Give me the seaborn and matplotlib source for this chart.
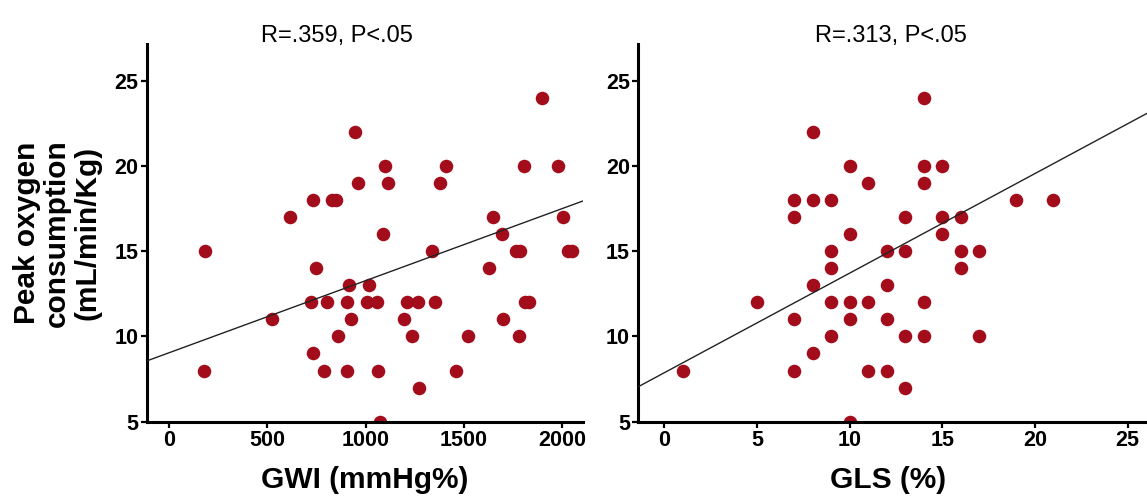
import matplotlib
matplotlib.use("Agg")
import matplotlib.pyplot as plt
import pandas as pd
import seaborn as sns

# Global work index (mmHg%) vs peak VO2
gwi = [182, 177, 522, 615, 734, 827, 851, 746, 722, 802, 734, 790, 861, 904,
       916, 926, 907, 946, 963, 1019, 1006, 1060, 1062, 1074, 1099, 1116, 1091,
       1196, 1210, 1269, 1239, 1274, 1337, 1354, 1380, 1410, 1461, 1524, 1628,
       1648, 1694, 1699, 1765, 1787, 1784, 1808, 1810, 1833, 1898, 1980, 2008,
       2031, 2054]
vo2_gwi = [15, 8, 11, 17, 18, 18, 18, 14, 12, 12, 9, 8, 10, 12,
           13, 11, 8, 22, 19, 13, 12, 12, 8, 5, 20, 19, 16,
           11, 12, 12, 10, 7, 15, 12, 19, 20, 8, 10, 14,
           17, 16, 11, 15, 15, 10, 20, 12, 12, 24, 20, 17,
           15, 15]

# Global longitudinal strain (%) vs peak VO2
gls = [1, 5, 7, 7, 7, 7, 8, 8, 8, 8, 9, 9, 9, 9, 9, 10, 10, 10, 10, 10,
       11, 11, 11, 12, 12, 12, 12, 13, 13, 13, 13, 14, 14, 14, 14, 14,
       15, 15, 15, 16, 16, 16, 17, 17, 19, 21]
vo2_gls = [8, 12, 18, 17, 11, 8, 22, 18, 13, 9, 18, 15, 14, 12, 10, 20, 16, 12, 11, 5,
           19, 12, 8, 15, 13, 11, 8, 17, 15, 10, 7, 24, 20, 19, 12, 10,
           20, 17, 16, 17, 15, 14, 15, 10, 18, 18]

# Linear fits (intercept, slope)
fit_gwi = (9.05, 0.00422)
fit_gls = (7.87, 0.584)

titles = ["R=.359, P<.05", "R=.313, P<.05"]
xlabels = ["GWI (mmHg%)", "GLS (%)"]
ylabel = "Peak oxygen\nconsumption\n(mL/min/Kg)"
xticks_gwi = [0, 500, 1000, 1500, 2000]
xticks_gls = [0, 5, 10, 15, 20, 25]
yticks = [5, 10, 15, 20, 25]

sns.set_theme(style="ticks")
plt.rcParams["font.family"] = ["Liberation Sans", "DejaVu Sans"]
plt.rcParams["font.weight"] = "bold"

fig = plt.figure(figsize=(11.47, 5.0), dpi=100)
ax1 = fig.add_axes([0.1282, 0.1566, 0.3801, 0.7554])
ax2 = fig.add_axes([0.5565, 0.1566, 0.4435, 0.7554])

point_color = "#A30D1B"
panels = [
    (ax1, gwi, vo2_gwi, fit_gwi, (-113.7, 2108), xticks_gwi, 0.436, 0.5),
    (ax2, gls, vo2_gls, fit_gls, (-1.40, 26.05), xticks_gls, 0.497, 0.49),
]

for i, (ax, xs, ys, fit, xlim, xt, tx, lx) in enumerate(panels):
    df = pd.DataFrame({"x": xs, "y": ys})
    sns.scatterplot(data=df, x="x", y="y", ax=ax, s=95, color=point_color,
                    edgecolor=point_color, linewidth=0, zorder=2)
    line = pd.DataFrame({"x": list(xlim)})
    line["y"] = fit[0] + fit[1] * line["x"]
    sns.lineplot(data=line, x="x", y="y", ax=ax, color="#222222",
                 linewidth=1.0, zorder=3)
    ax.set_xlim(*xlim)
    ax.set_ylim(5, 27.15)
    ax.set_xticks(xt)
    ax.set_yticks(yticks)
    ax.tick_params(axis="both", direction="out", length=4, width=1.6,
                   labelsize=15.5, pad=2, color="black", labelcolor="black")
    for lab in ax.get_xticklabels() + ax.get_yticklabels():
        lab.set_fontweight("bold")
    for side in ("top", "right"):
        ax.spines[side].set_visible(False)
    for side in ("left", "bottom"):
        ax.spines[side].set_linewidth(2.2)
        ax.spines[side].set_color("black")
    ax.set_xlabel(xlabels[i], fontsize=21.5, fontweight="bold", color="black")
    ax.xaxis.set_label_coords(lx, -0.117)
    ax.set_ylabel("")
    ax.text(tx, 1.005, titles[i], transform=ax.transAxes, ha="center",
            va="baseline", fontsize=17, fontweight="normal", color="black")

ax1.set_ylabel(ylabel, fontsize=21.5, fontweight="bold", color="black",
               linespacing=1.1)
ax1.yaxis.set_label_coords(-0.105, 0.5)

fig.savefig("out.png", dpi=100, facecolor="white")
